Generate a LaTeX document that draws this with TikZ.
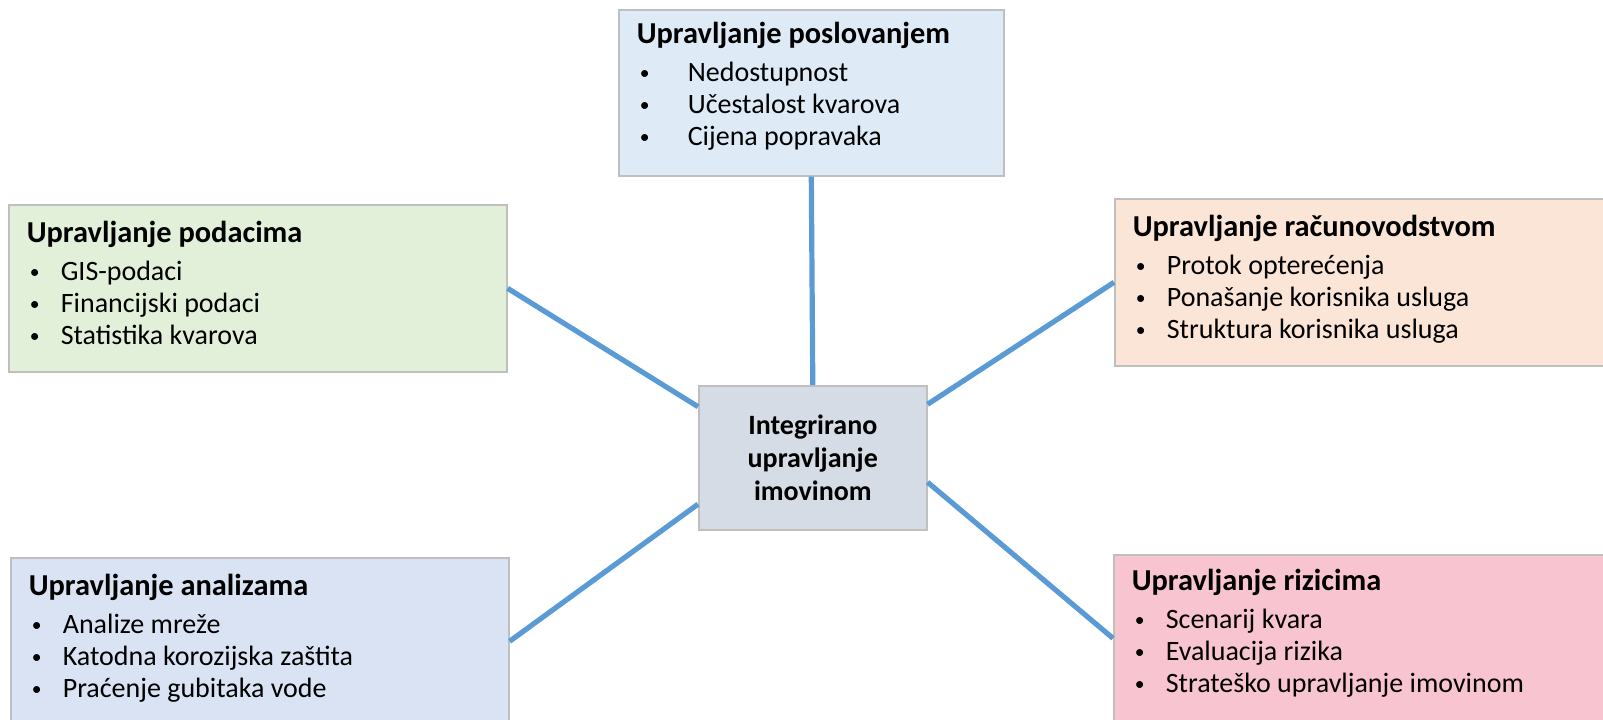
\documentclass[tikz,border=0pt]{standalone}
\usepackage{fontspec}
\setmainfont{Carlito}
\definecolor{poslovC}{HTML}{DEEBF7}
\definecolor{podaciC}{HTML}{E2F0D9}
\definecolor{racunC}{HTML}{FBE5D6}
\definecolor{analizeC}{HTML}{DAE3F3}
\definecolor{riziciC}{HTML}{F8C4D0}
\definecolor{coreC}{HTML}{D6DCE5}
\definecolor{edgeC}{HTML}{BFBFBF}
\definecolor{linkC}{HTML}{5B9BD5}
\newcommand{\panel}[5]{\parbox[c][#2][t]{#1}{\rule{0pt}{#3}{\fontsize{15.2}{16}\selectfont\bfseries #4}\par\vspace{3pt}#5}}
\newcommand{\itm}[2][17pt]{\par\makebox[#1][l]{\hspace{1.5pt}\raisebox{1.2pt}{\scalebox{0.7}{\textbullet}}}#2}

\begin{document}
\begin{tikzpicture}[x=0.5pt,y=-0.5pt,
  panelbox/.style={draw=edgeC,line width=0.8pt,anchor=north west,
    inner xsep=9pt,inner ysep=0pt,font=\fontsize{14}{16}\selectfont},
  link/.style={draw=linkC,line width=2.6pt}]
 \useasboundingbox (0,0) rectangle (1603,719);
 \node[panelbox,fill=poslovC] (poslov) at (618,9)
   {\panel{174.5pt}{83pt}{17pt}{Upravljanje poslovanjem}
     {\itm[25.5pt]{Nedostupnost}\itm[25.5pt]{Učestalost kvarova}\itm[25.5pt]{Cijena popravaka}}};
 \node[panelbox,fill=podaciC] (podaci) at (8,204)
   {\panel{231pt}{83.5pt}{19pt}{Upravljanje podacima}
     {\itm{GIS-podaci}\itm{Financijski podaci}\itm{Statistika kvarova}}};
 \node[panelbox,fill=racunC] (racun) at (1114,198)
   {\panel{235pt}{83.5pt}{19pt}{Upravljanje računovodstvom}
     {\itm{Protok opterećenja}\itm{Ponašanje korisnika usluga}\itm{Struktura korisnika usluga}}};
 \node[panelbox,fill=analizeC] (analize) at (10,557)
   {\panel{231pt}{83.5pt}{19pt}{Upravljanje analizama}
     {\itm{Analize mreže}\itm{Katodna korozijska zaštita}\itm{Praćenje gubitaka vode}}};
 \node[panelbox,fill=riziciC] (rizici) at (1113,554)
   {\panel{235pt}{83.5pt}{18pt}{Upravljanje rizicima}
     {\itm{Scenarij kvara}\itm{Evaluacija rizika}\itm{Strateško upravljanje imovinom}}};
 \node[draw=edgeC,line width=0.8pt,fill=coreC,anchor=north west,
   minimum width=114pt,minimum height=72pt,align=center,
   font=\bfseries\fontsize{14}{16.5}\selectfont] (core) at (698,385)
   {Integrirano\\upravljanje\\imovinom};
 \draw[link] (core.north) -- (poslov.south);
 \draw[link] (core.156) -- (podaci.east);
 \draw[link] (core.202) -- (analize.east);
 \draw[link] (core.25) -- (racun.west);
 \draw[link] (core.348) -- (rizici.west);
\end{tikzpicture}
\end{document}
